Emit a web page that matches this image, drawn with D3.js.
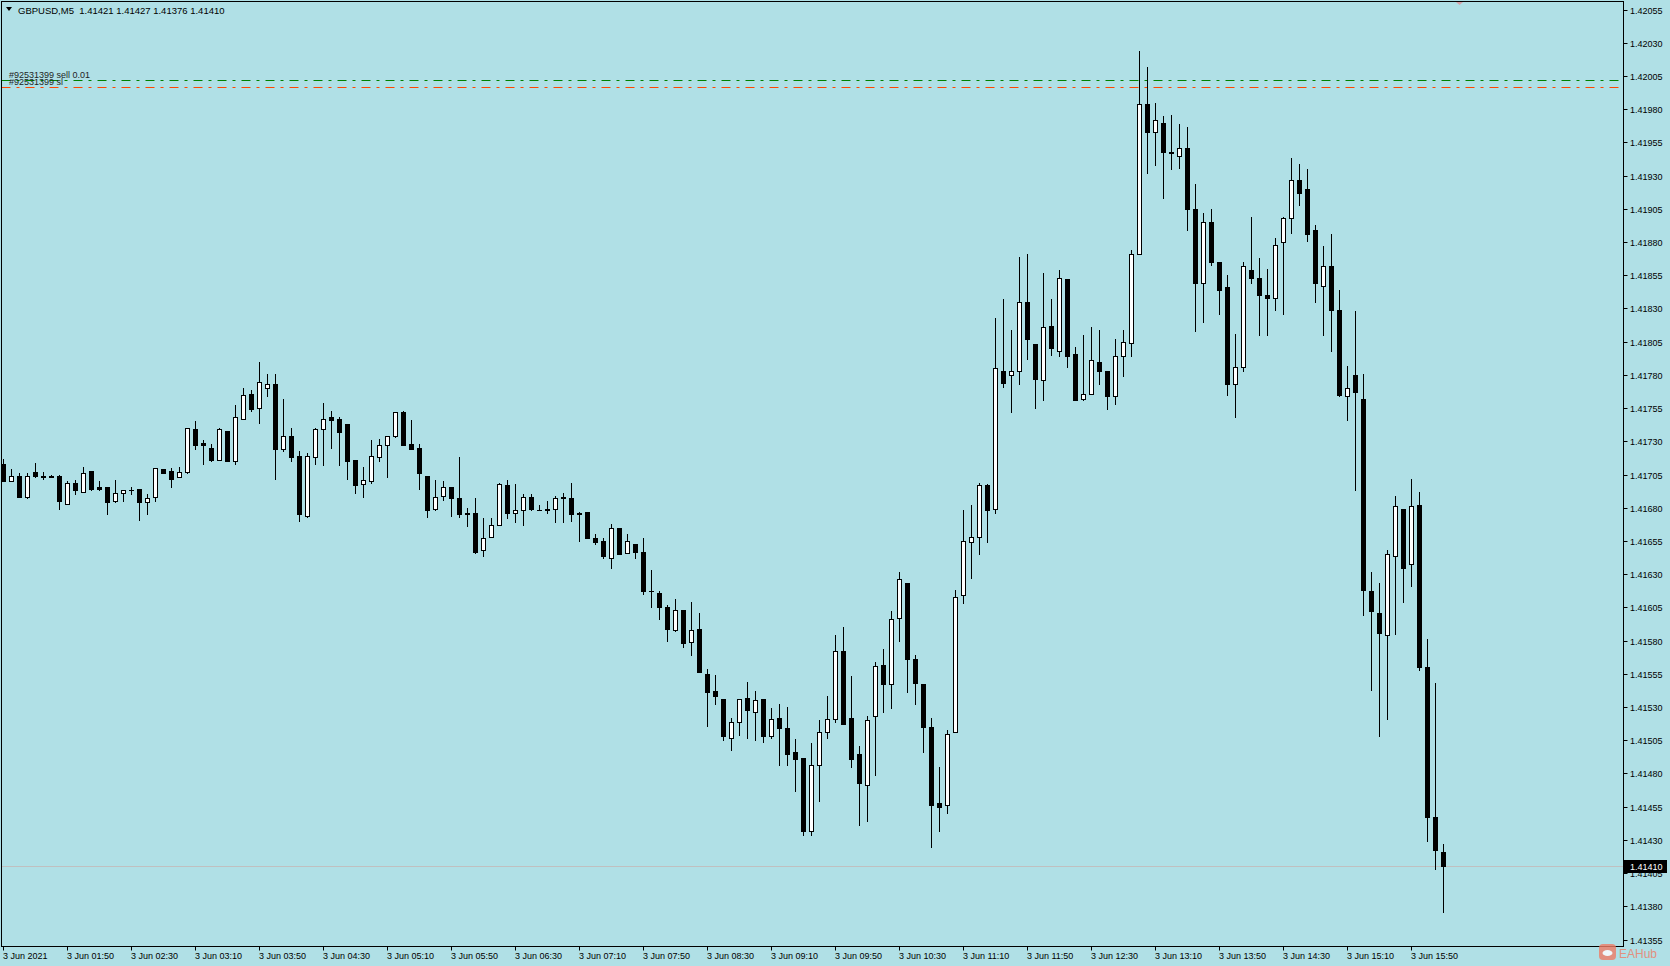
<!DOCTYPE html>
<html>
<head>
<meta charset="utf-8">
<script src="https://cdn.jsdelivr.net/npm/d3@7"></script>
<style>
  html, body { margin: 0; padding: 0; background: #b0e0e6; }
  svg { display: block; font-family: "Liberation Sans", Arial, sans-serif; }
  text { white-space: pre; }
</style>
</head>
<body>
<div id="chart"></div>
<script>
var symbol = "GBPUSD,M5";

// 5 minute bars, 3 Jun 2021 01:10 .. 16:10
var opens = [
  1.41713,1.41700,1.41704,1.41688,1.41707,1.41704,1.41704,1.41704,1.41683,1.41699,
  1.41692,1.41708,1.41696,1.41696,1.41685,1.41691,1.41693,1.41694,1.41684,1.41688,
  1.41709,1.41708,1.41703,1.41707,1.41739,1.41729,1.41725,1.41716,1.41738,1.41715,
  1.41747,1.41766,1.41755,1.41770,1.41773,1.41724,1.41734,1.41719,1.41674,1.41718,
  1.41739,1.41748,1.41747,1.41743,1.41716,1.41698,1.41700,1.41718,1.41727,1.41734,
  1.41752,1.41728,1.41725,1.41704,1.41679,1.41689,1.41696,1.41687,1.41676,1.41676,
  1.41648,1.41658,1.41667,1.41697,1.41676,1.41678,1.41688,1.41678,1.41679,1.41679,
  1.41687,1.41687,1.41676,1.41677,1.41657,1.41655,1.41642,1.41665,1.41646,1.41653,
  1.41647,1.41617,1.41616,1.41605,1.41588,1.41603,1.41579,1.41589,1.41555,1.41542,
  1.41536,1.41507,1.41519,1.41537,1.41526,1.41536,1.41508,1.41522,1.41514,1.41496,
  1.41492,1.41437,1.41486,1.41511,1.41521,1.41572,1.41522,1.41495,1.41471,1.41523,
  1.41562,1.41547,1.41597,1.41623,1.41566,1.41547,1.41515,1.41458,1.41456,1.41511,
  1.41614,1.41654,1.41658,1.41697,1.41679,1.41783,1.41780,1.41783,1.41835,1.41803,
  1.41776,1.41817,1.41798,1.41852,1.41796,1.41762,1.41766,1.41790,1.41783,1.41764,
  1.41794,1.41804,1.41871,1.41984,1.41963,1.41970,1.41948,1.41945,1.41951,1.41905,
  1.41849,1.41895,1.41865,1.41846,1.41773,1.41786,1.41859,1.41853,1.41840,1.41838,
  1.41880,1.41898,1.41927,1.41920,1.41889,1.41847,1.41862,1.41829,1.41764,1.41780,
  1.41762,1.41617,1.41601,1.41584,1.41644,1.41679,1.41638,1.41682,1.41560,1.41447,1.41421
];
var highs = [
  1.41717,1.41709,1.41706,1.41706,1.41714,1.41707,1.41705,1.41705,1.41700,1.41701,
  1.41711,1.41708,1.41700,1.41696,1.41701,1.41693,1.41696,1.41694,1.41690,1.41710,
  1.41709,1.41710,1.41711,1.41740,1.41745,1.41731,1.41728,1.41740,1.41738,1.41757,
  1.41770,1.41769,1.41790,1.41781,1.41781,1.41762,1.41740,1.41723,1.41721,1.41740,
  1.41759,1.41753,1.41748,1.41743,1.41716,1.41711,1.41731,1.41732,1.41734,1.41752,
  1.41753,1.41746,1.41728,1.41704,1.41701,1.41700,1.41696,1.41718,1.41680,1.41687,
  1.41672,1.41672,1.41699,1.41701,1.41698,1.41690,1.41690,1.41682,1.41685,1.41689,
  1.41691,1.41699,1.41677,1.41677,1.41660,1.41657,1.41668,1.41665,1.41660,1.41653,
  1.41657,1.41633,1.41617,1.41607,1.41611,1.41603,1.41609,1.41601,1.41559,1.41554,
  1.41536,1.41522,1.41536,1.41549,1.41542,1.41536,1.41529,1.41532,1.41530,1.41506,
  1.41492,1.41503,1.41520,1.41538,1.41584,1.41590,1.41553,1.41501,1.41523,1.41564,
  1.41574,1.41602,1.41632,1.41623,1.41569,1.41547,1.41522,1.41485,1.41513,1.41618,
  1.41678,1.41682,1.41699,1.41698,1.41823,1.41837,1.41814,1.41869,1.41871,1.41803,
  1.41857,1.41837,1.41859,1.41852,1.41801,1.41810,1.41816,1.41814,1.41783,1.41807,
  1.41814,1.41874,1.42024,1.42012,1.41985,1.41975,1.41976,1.41969,1.41967,1.41924,
  1.41902,1.41905,1.41865,1.41855,1.41811,1.41865,1.41899,1.41868,1.41860,1.41883,
  1.41899,1.41943,1.41939,1.41935,1.41893,1.41877,1.41886,1.41844,1.41787,1.41828,
  1.41781,1.41632,1.41623,1.41648,1.41689,1.41679,1.41702,1.41692,1.41581,1.41548,1.41427
];
var lows = [
  1.41700,1.41700,1.41688,1.41687,1.41703,1.41702,1.41703,1.41679,1.41683,1.41690,
  1.41692,1.41693,1.41693,1.41675,1.41684,1.41685,1.41690,1.41671,1.41675,1.41685,
  1.41706,1.41696,1.41703,1.41706,1.41724,1.41713,1.41715,1.41716,1.41715,1.41713,
  1.41747,1.41753,1.41744,1.41764,1.41702,1.41723,1.41715,1.41670,1.41673,1.41713,
  1.41712,1.41725,1.41712,1.41702,1.41691,1.41688,1.41699,1.41715,1.41703,1.41733,
  1.41727,1.41724,1.41694,1.41673,1.41678,1.41686,1.41674,1.41673,1.41666,1.41646,
  1.41644,1.41658,1.41667,1.41672,1.41669,1.41667,1.41678,1.41678,1.41676,1.41669,
  1.41669,1.41670,1.41655,1.41657,1.41653,1.41642,1.41635,1.41645,1.41646,1.41642,
  1.41615,1.41605,1.41596,1.41580,1.41587,1.41575,1.41569,1.41556,1.41516,1.41532,
  1.41505,1.41498,1.41509,1.41507,1.41505,1.41504,1.41507,1.41486,1.41486,1.41467,
  1.41434,1.41434,1.41459,1.41507,1.41519,1.41517,1.41485,1.41441,1.41444,1.41479,
  1.41526,1.41529,1.41580,1.41541,1.41532,1.41496,1.41425,1.41437,1.41450,1.41511,
  1.41608,1.41627,1.41645,1.41654,1.41676,1.41771,1.41752,1.41773,1.41792,1.41755,
  1.41761,1.41795,1.41794,1.41786,1.41761,1.41761,1.41766,1.41773,1.41754,1.41758,
  1.41779,1.41794,1.41871,1.41932,1.41938,1.41913,1.41935,1.41936,1.41889,1.41813,
  1.41820,1.41863,1.41826,1.41765,1.41748,1.41783,1.41849,1.41810,1.41810,1.41829,
  1.41826,1.41887,1.41908,1.41881,1.41835,1.41810,1.41798,1.41764,1.41746,1.41693,
  1.41599,1.41543,1.41508,1.41521,1.41585,1.41609,1.41621,1.41558,1.41429,1.41408,1.41376
];
var closes = [
  1.41700,1.41704,1.41688,1.41704,1.41704,1.41703,1.41703,1.41685,1.41699,1.41693,
  1.41706,1.41694,1.41694,1.41684,1.41691,1.41693,1.41693,1.41684,1.41687,1.41710,
  1.41706,1.41702,1.41707,1.41740,1.41727,1.41727,1.41716,1.41739,1.41715,1.41748,
  1.41765,1.41754,1.41775,1.41773,1.41724,1.41734,1.41718,1.41675,1.41719,1.41739,
  1.41747,1.41746,1.41737,1.41715,1.41697,1.41701,1.41719,1.41727,1.41734,1.41752,
  1.41727,1.41724,1.41706,1.41678,1.41688,1.41696,1.41687,1.41675,1.41675,1.41647,
  1.41657,1.41667,1.41698,1.41676,1.41678,1.41688,1.41679,1.41678,1.41678,1.41687,
  1.41688,1.41675,1.41675,1.41657,1.41654,1.41644,1.41665,1.41645,1.41655,1.41647,
  1.41617,1.41617,1.41605,1.41589,1.41603,1.41578,1.41588,1.41556,1.41541,1.41538,
  1.41508,1.41519,1.41536,1.41528,1.41535,1.41508,1.41521,1.41514,1.41495,1.41491,
  1.41437,1.41486,1.41511,1.41521,1.41572,1.41517,1.41491,1.41473,1.41520,1.41561,
  1.41547,1.41596,1.41626,1.41566,1.41548,1.41515,1.41456,1.41455,1.41510,1.41613,
  1.41655,1.41658,1.41697,1.41678,1.41785,1.41774,1.41783,1.41835,1.41807,1.41777,
  1.41816,1.41800,1.41853,1.41794,1.41761,1.41766,1.41791,1.41783,1.41764,1.41794,
  1.41805,1.41871,1.41984,1.41963,1.41972,1.41948,1.41947,1.41951,1.41905,1.41849,
  1.41895,1.41865,1.41844,1.41773,1.41786,1.41862,1.41853,1.41840,1.41838,1.41878,
  1.41898,1.41927,1.41917,1.41886,1.41849,1.41862,1.41829,1.41765,1.41770,1.41767,
  1.41618,1.41602,1.41586,1.41645,1.41681,1.41635,1.41681,1.41560,1.41447,1.41422,1.41410
];

// one label every 8 bars
var timeLabels = [
  "3 Jun 2021", "3 Jun 01:50", "3 Jun 02:30", "3 Jun 03:10", "3 Jun 03:50", "3 Jun 04:30",
  "3 Jun 05:10", "3 Jun 05:50", "3 Jun 06:30", "3 Jun 07:10", "3 Jun 07:50", "3 Jun 08:30",
  "3 Jun 09:10", "3 Jun 09:50", "3 Jun 10:30", "3 Jun 11:10", "3 Jun 11:50", "3 Jun 12:30",
  "3 Jun 13:10", "3 Jun 13:50", "3 Jun 14:30", "3 Jun 15:10", "3 Jun 15:50"
];
var priceTicks = [
  1.41355, 1.41380, 1.41405, 1.41430, 1.41455, 1.41480, 1.41505, 1.41530, 1.41555, 1.41580,
  1.41605, 1.41630, 1.41655, 1.41680, 1.41705, 1.41730, 1.41755, 1.41780, 1.41805, 1.41830,
  1.41855, 1.41880, 1.41905, 1.41930, 1.41955, 1.41980, 1.42005, 1.42030, 1.42055
];

var orderLabels = ["#92531399 sell 0.01", "#92531399 sl"];
var orderPrices = [1.42002, 1.41997];
var orderColors = ["#008000", "#ff4500"];

var width = 1670,
    height = 966,
    barStep = 8,
    plot = {left: 1.5, top: 1.5, right: 1623.5, bottom: 946.5};

var n = closes.length;
var lastPrice = closes[n - 1];
let px = (v) => Math.round(v) + 0.5;

let svg = d3.select("#chart")
    .append("svg")
    .attr("width", width)
    .attr("height", height);

svg.append("rect")
    .attr("width", width)
    .attr("height", height)
    .attr("fill", "#b0e0e6");

svg.append("clipPath")
    .attr("id", "plotClip")
    .append("rect")
    .attr("x", plot.left + 0.5)
    .attr("y", plot.top + 0.5)
    .attr("width", plot.right - plot.left - 1)
    .attr("height", plot.bottom - plot.top - 1);

let x = d3.scaleBand()
    .domain(d3.range(n))
    .range([-1, -1 + barStep * n]);

let y = d3.scaleLinear()
    .domain([1.41355, 1.42055])
    .range([939.5, 9.6]);

let cx = (i) => x(i) + x.bandwidth() / 2;

let candles = d3.range(n).map(i => ({i: i, o: opens[i], h: highs[i], l: lows[i], c: closes[i]}));

let inner = svg.append("g").attr("clip-path", "url(#plotClip)");

// current price line
inner.append("line")
    .attr("x1", plot.left)
    .attr("x2", plot.right)
    .attr("y1", px(y(lastPrice)))
    .attr("y2", px(y(lastPrice)))
    .attr("stroke", "#c0c0c0");

// order lines (dash dot)
inner.selectAll("line.order")
    .data(orderPrices)
    .join("line")
    .attr("class", "order")
    .attr("x1", plot.left)
    .attr("x2", plot.right)
    .attr("y1", d => px(y(d)))
    .attr("y2", d => px(y(d)))
    .attr("stroke", (d, k) => orderColors[k])
    .attr("stroke-dasharray", "9,6,3,6");

inner.selectAll("text.order")
    .data(orderLabels)
    .join("text")
    .attr("class", "order")
    .attr("x", 9)
    .attr("y", (d, k) => px(y(orderPrices[k])) - 3)
    .attr("font-size", 9)
    .attr("fill", "#1e1e1e")
    .text(d => d);

// wicks
inner.selectAll("line.wick")
    .data(candles)
    .join("line")
    .attr("class", "wick")
    .attr("x1", d => px(cx(d.i)))
    .attr("x2", d => px(cx(d.i)))
    .attr("y1", d => Math.round(y(d.h)))
    .attr("y2", d => Math.round(y(d.l)) + 1)
    .attr("stroke", "#000");

// bodies
let bodyTop = (d) => Math.round(y(Math.max(d.o, d.c)));
let bodyBot = (d) => Math.round(y(Math.min(d.o, d.c)));

inner.selectAll("rect.body")
    .data(candles.filter(d => bodyBot(d) - bodyTop(d) >= 1))
    .join("rect")
    .attr("class", "body")
    .attr("x", d => Math.round(cx(d.i)) - 2 + 0.5)
    .attr("y", d => bodyTop(d) + 0.5)
    .attr("width", 4)
    .attr("height", d => bodyBot(d) - bodyTop(d))
    .attr("fill", d => d.c > d.o ? "#fff" : "#000")
    .attr("stroke", "#000");

// doji: flat body
inner.selectAll("rect.doji")
    .data(candles.filter(d => bodyBot(d) - bodyTop(d) < 1))
    .join("rect")
    .attr("class", "doji")
    .attr("x", d => Math.round(cx(d.i)) - 2)
    .attr("y", d => bodyTop(d))
    .attr("width", 5)
    .attr("height", 1)
    .attr("fill", "#000");

// frame
svg.append("rect")
    .attr("x", plot.left)
    .attr("y", plot.top)
    .attr("width", plot.right - plot.left)
    .attr("height", plot.bottom - plot.top)
    .attr("fill", "none")
    .attr("stroke", "#000");

// chart shift marker
svg.append("path")
    .attr("d", "M1456,2 L1463,2 L1459.5,5 Z")
    .attr("fill", "#d4a3aa");

// price axis
let yAxis = svg.append("g");
yAxis.selectAll("line")
    .data(priceTicks)
    .join("line")
    .attr("x1", plot.right)
    .attr("x2", plot.right + 4)
    .attr("y1", d => px(y(d)))
    .attr("y2", d => px(y(d)))
    .attr("stroke", "#000");
yAxis.selectAll("text")
    .data(priceTicks)
    .join("text")
    .attr("x", 1630)
    .attr("y", d => Math.round(y(d)) + 3.5)
    .attr("font-size", 9)
    .attr("fill", "#000")
    .text(d => d3.format(".5f")(d));

// last price marker
svg.append("rect")
    .attr("x", plot.right + 0.5)
    .attr("y", Math.round(y(lastPrice)) - 6)
    .attr("width", 43)
    .attr("height", 13)
    .attr("fill", "#000");
svg.append("text")
    .attr("x", 1630)
    .attr("y", Math.round(y(lastPrice)) + 3.5)
    .attr("font-size", 9)
    .attr("fill", "#fff")
    .text(d3.format(".5f")(lastPrice));

// time axis
let xAxis = svg.append("g");
xAxis.selectAll("line")
    .data(timeLabels)
    .join("line")
    .attr("x1", (d, k) => px(cx(k * 8)))
    .attr("x2", (d, k) => px(cx(k * 8)))
    .attr("y1", plot.bottom)
    .attr("y2", plot.bottom + 4)
    .attr("stroke", "#000");
xAxis.selectAll("text")
    .data(timeLabels)
    .join("text")
    .attr("x", (d, k) => Math.round(cx(k * 8)))
    .attr("y", 959)
    .attr("font-size", 9)
    .attr("fill", "#000")
    .text(d => d);

// header
svg.append("path")
    .attr("d", "M6,7 L12,7 L9,11 Z")
    .attr("fill", "#000");
svg.append("text")
    .attr("x", 18)
    .attr("y", 14)
    .attr("font-size", 9.5)
    .attr("fill", "#000")
    .text(symbol + "  " + [opens[n - 1], highs[n - 1], lows[n - 1], closes[n - 1]].map(d3.format(".5f")).join(" "));

// watermark
let mark = svg.append("g").attr("opacity", 0.8);
mark.append("rect")
    .attr("x", 1599)
    .attr("y", 944)
    .attr("width", 17)
    .attr("height", 16)
    .attr("rx", 4)
    .attr("fill", "#ef7d66");
mark.append("ellipse")
    .attr("cx", 1607.5)
    .attr("cy", 953)
    .attr("rx", 5)
    .attr("ry", 3)
    .attr("fill", "#fff");
mark.append("text")
    .attr("x", 1619)
    .attr("y", 958)
    .attr("font-size", 12)
    .attr("fill", "#ef7d66")
    .text("EAHub");
</script>
</body>
</html>
